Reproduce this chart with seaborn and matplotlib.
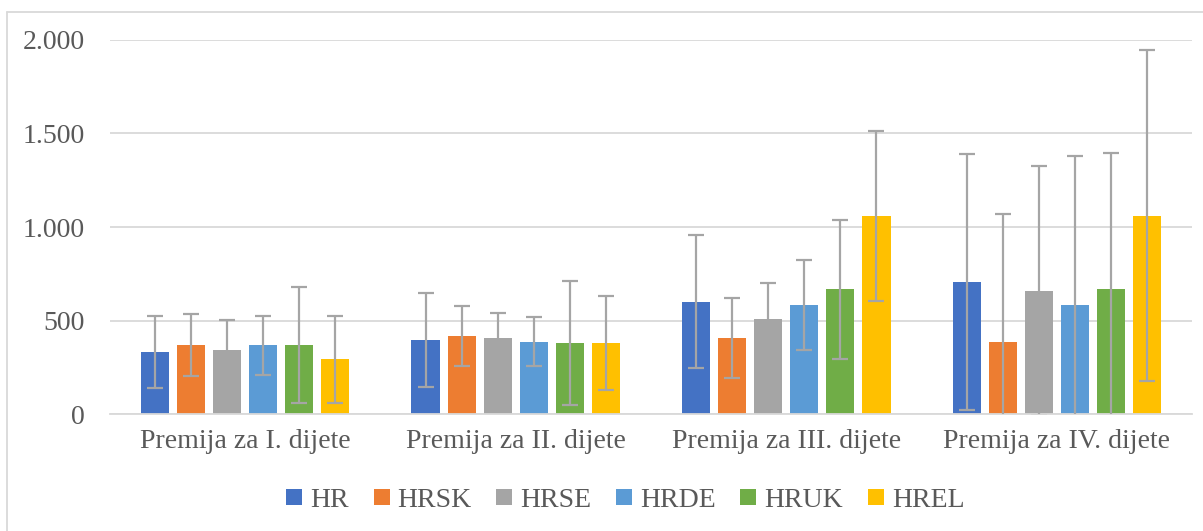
import matplotlib
matplotlib.use("Agg")
import matplotlib.pyplot as plt
from matplotlib.ticker import FuncFormatter, MultipleLocator
from matplotlib.lines import Line2D
import seaborn as sns
import pandas as pd

# Child-birth premium by scenario (mean and standard deviation)
categories = ["Premija za I. dijete", "Premija za II. dijete",
              "Premija za III. dijete", "Premija za IV. dijete"]
series = ["HR", "HRSK", "HRSE", "HRDE", "HRUK", "HREL"]

means = {
    "HR":   [332, 396, 601, 706],
    "HRSK": [367, 416, 405, 385],
    "HRSE": [341, 405, 507, 658],
    "HRDE": [367, 387, 583, 582],
    "HRUK": [367, 378, 667, 667],
    "HREL": [293, 378, 1061, 1061],
}
errors = {
    "HR":   [193, 249, 357, 683],
    "HRSK": [166, 159, 215, 683],
    "HRSE": [164, 137, 196, 670],
    "HRDE": [156, 131, 240, 797],
    "HRUK": [310, 332, 373, 729],
    "HREL": [232, 252, 455, 887],
}
colors = ["#4472C4", "#ED7D31", "#A5A5A5", "#5B9BD5", "#70AD47", "#FFC000"]

df = pd.DataFrame(
    [(c, s, means[s][i]) for s in series for i, c in enumerate(categories)],
    columns=["kategorija", "scenarij", "iznos"],
)

sns.set_theme(style="white")
plt.rcParams["font.family"] = ["Liberation Serif", "DejaVu Serif"]
text_color = "#595959"
grid_color = "#D9D9D9"
font_size = 20

fig = plt.figure(figsize=(12.03, 5.31), dpi=100)
ax = fig.add_axes([0.0914, 0.2203, 0.8995, 0.7044])

sns.barplot(data=df, x="kategorija", y="iznos", hue="scenarij",
            order=categories, hue_order=series, palette=colors,
            errorbar=None, width=0.8, gap=0.22, saturation=1,
            linewidth=0, ax=ax, legend=False, zorder=2)

# Error bars at the centre of each drawn bar
for s, container in zip(series, ax.containers):
    xs = [b.get_x() + b.get_width() / 2 for b in container]
    ax.errorbar(xs, means[s], yerr=errors[s], fmt="none",
                ecolor="#A5A5A5", elinewidth=1.6, capsize=6,
                capthick=1.6, zorder=3)

ax.set_ylim(0, 2000)
ax.set_xlim(-0.5, len(categories) - 0.5)
ax.yaxis.set_major_locator(MultipleLocator(500))
ax.yaxis.set_major_formatter(
    FuncFormatter(lambda v, _: f"{int(v):,}".replace(",", ".")))
ax.grid(axis="y", color=grid_color, linewidth=1.3, zorder=0)
ax.set_axisbelow(True)
for side in ["top", "right", "left"]:
    ax.spines[side].set_visible(False)
ax.spines["bottom"].set_color(grid_color)
ax.spines["bottom"].set_linewidth(1.3)
ax.set_xlabel("")
ax.set_ylabel("")
ax.tick_params(axis="y", length=0, pad=18, labelsize=font_size, labelcolor=text_color)
ax.tick_params(axis="x", length=0, pad=11, labelsize=font_size, labelcolor=text_color)

handles = [Line2D([], [], marker="s", linestyle="none", markersize=11,
                  markerfacecolor=c, markeredgewidth=0) for c in colors]
fig.legend(handles, series, loc="center", bbox_to_anchor=(0.52, 0.058),
           ncol=len(series), frameon=False, fontsize=font_size,
           labelcolor=text_color, handlelength=0.55, handletextpad=0.3,
           columnspacing=0.9)

# Chart-area frame
fig.add_artist(Line2D([7 / 1203, 7 / 1203], [0, 1 - 12 / 531],
                      transform=fig.transFigure, color=grid_color, linewidth=1.3))
fig.add_artist(Line2D([7 / 1203, 1], [1 - 12 / 531, 1 - 12 / 531],
                      transform=fig.transFigure, color=grid_color, linewidth=1.3))

fig.savefig("out.png", dpi=100, facecolor="white")
